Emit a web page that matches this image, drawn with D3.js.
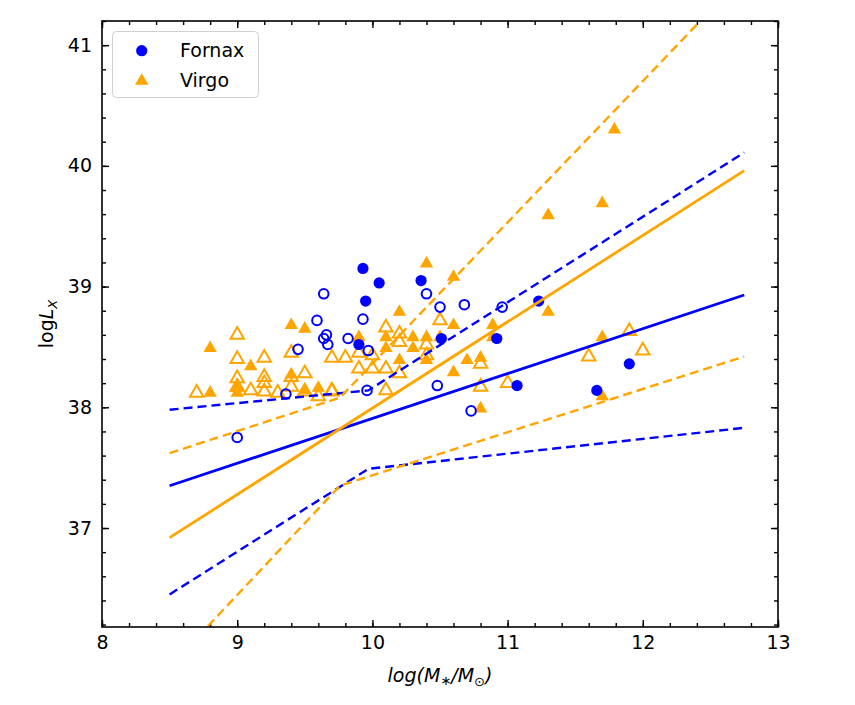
<!DOCTYPE html>
<html>
<head>
<meta charset="utf-8">
<script src="https://cdn.jsdelivr.net/npm/d3@7"></script>
<style>
  body { margin: 0; background: #fff; }
  text { font-family: "DejaVu Sans", sans-serif; }
</style>
</head>
<body>
<script>
// Fornax: [log M*, log Lx]
const fornaxFilled = [
  [9.93, 39.15], [10.05, 39.03], [9.95, 38.88], [10.36, 39.05], [9.90, 38.52],
  [10.51, 38.57], [10.92, 38.57], [11.07, 38.18], [11.23, 38.88], [11.90, 38.36],
  [11.66, 38.14]
];
const fornaxOpen = [
  [9.64, 38.94], [9.59, 38.72], [9.66, 38.60], [9.64, 38.57], [9.67, 38.52],
  [9.82, 38.57], [9.45, 38.48], [9.36, 38.11], [9.93, 38.73], [9.97, 38.47],
  [9.96, 38.14], [10.40, 38.94], [10.50, 38.83], [10.68, 38.85], [10.96, 38.83],
  [10.48, 38.18], [10.73, 37.97], [9.00, 37.75]
];
// Virgo
const virgoFilled = [
  [8.80, 38.49], [9.40, 38.68], [9.50, 38.65], [9.10, 38.34], [9.00, 38.12],
  [9.00, 38.16], [8.80, 38.12], [9.40, 38.27], [9.50, 38.14], [9.60, 38.16],
  [10.40, 39.19], [10.60, 39.08], [10.20, 38.79], [10.60, 38.68], [10.89, 38.68],
  [10.89, 38.58], [9.90, 38.58], [10.10, 38.58], [10.30, 38.58], [10.40, 38.58],
  [10.50, 38.58], [10.30, 38.49], [10.10, 38.49], [10.40, 38.39], [10.20, 38.39],
  [10.70, 38.39], [10.80, 38.41], [10.60, 38.29], [10.80, 37.99], [11.30, 39.59],
  [11.70, 39.69], [11.30, 38.79], [11.70, 38.58], [11.70, 38.09], [11.79, 40.30]
];
const virgoOpen = [
  [9.00, 38.60], [9.00, 38.40], [9.00, 38.24], [9.00, 38.17], [8.70, 38.12],
  [9.10, 38.14], [9.20, 38.41], [9.20, 38.25], [9.20, 38.20], [9.20, 38.13],
  [9.30, 38.12], [9.40, 38.45], [9.40, 38.25], [9.40, 38.17], [9.50, 38.28],
  [9.50, 38.13], [9.60, 38.09], [9.70, 38.41], [9.80, 38.41], [9.70, 38.13],
  [10.10, 38.66], [10.20, 38.61], [10.20, 38.54], [9.90, 38.45], [10.00, 38.43],
  [9.90, 38.32], [10.00, 38.32], [10.10, 38.32], [10.20, 38.28], [10.10, 38.14],
  [9.70, 38.14], [10.40, 38.52], [10.40, 38.43], [10.50, 38.72], [10.80, 38.36],
  [10.80, 38.17], [11.00, 38.20], [11.60, 38.42], [12.00, 38.47], [11.90, 38.63]
];

// fits and their uncertainty envelopes
const fornaxFit = [[8.5, 37.35], [12.75, 38.93]];
const fornaxUpper = [[8.5, 37.98], [9.97, 38.14], [12.75, 40.11]];
const fornaxLower = [[8.5, 36.45], [9.97, 37.49], [12.75, 37.83]];
const virgoFit = [[8.5, 36.92], [12.75, 39.96]];
const virgoUpper = [[8.5, 37.62], [9.76, 38.08], [12.75, 41.58]];
const virgoLower = [[8.5, 35.85], [9.76, 37.35], [12.75, 38.42]];

const xTicks = [8, 9, 10, 11, 12, 13];
const yTicks = [37, 38, 39, 40, 41];

const width = 855, height = 705;
const blue = "#0000ff", orange = "#ffa500";

const x = d3.scaleLinear([8, 13], [102, 778]);
const y = d3.scaleLinear([36.18, 41.2], [627, 21]);

const svg = d3.select("body").append("svg")
  .attr("width", width).attr("height", height);

svg.append("clipPath").attr("id", "plot")
  .append("rect")
  .attr("x", x(8)).attr("y", y(41.2))
  .attr("width", x(13) - x(8)).attr("height", y(36.18) - y(41.2));

const minorX = d3.range(8, 13.001, 0.2);
const minorY = d3.range(36.2, 41.21, 0.2);

function styleAxis(g) {
  g.select(".domain").remove();
  g.selectAll(".tick line").attr("stroke", "#000").attr("stroke-width", 1.4);
  g.selectAll("text").attr("font-size", 19).attr("fill", "#000")
    .attr("font-family", "DejaVu Sans, sans-serif");
}

// bottom
svg.append("g").attr("transform", `translate(0,${y.range()[0]})`)
  .call(d3.axisBottom(x).tickValues(minorX).tickSize(-4).tickFormat(""))
  .call(styleAxis);
svg.append("g").attr("transform", `translate(0,${y.range()[0]})`)
  .call(d3.axisBottom(x).tickValues(xTicks).tickSize(-7).tickPadding(9).tickFormat(d3.format("d")))
  .call(styleAxis);
// top
svg.append("g").attr("transform", `translate(0,${y.range()[1]})`)
  .call(d3.axisTop(x).tickValues(minorX).tickSize(-4).tickFormat(""))
  .call(styleAxis);
svg.append("g").attr("transform", `translate(0,${y.range()[1]})`)
  .call(d3.axisTop(x).tickValues(xTicks).tickSize(-7).tickFormat(""))
  .call(styleAxis);
// left
svg.append("g").attr("transform", `translate(${x.range()[0]},0)`)
  .call(d3.axisLeft(y).tickValues(minorY).tickSize(-4).tickFormat(""))
  .call(styleAxis);
svg.append("g").attr("transform", `translate(${x.range()[0]},0)`)
  .call(d3.axisLeft(y).tickValues(yTicks).tickSize(-7).tickPadding(10).tickFormat(d3.format("d")))
  .call(styleAxis);
// right
svg.append("g").attr("transform", `translate(${x.range()[1]},0)`)
  .call(d3.axisRight(y).tickValues(minorY).tickSize(-4).tickFormat(""))
  .call(styleAxis);
svg.append("g").attr("transform", `translate(${x.range()[1]},0)`)
  .call(d3.axisRight(y).tickValues(yTicks).tickSize(-7).tickFormat(""))
  .call(styleAxis);

const plot = svg.append("g").attr("clip-path", "url(#plot)");

const tri = d3.symbol().type(d3.symbolTriangle).size(78);

// points
plot.selectAll(".vo").data(virgoOpen).join("path")
  .attr("d", tri).attr("transform", d => `translate(${x(d[0])},${y(d[1])})`)
  .attr("fill", "none").attr("stroke", orange).attr("stroke-width", 2);
plot.selectAll(".vf").data(virgoFilled).join("path")
  .attr("d", tri).attr("transform", d => `translate(${x(d[0])},${y(d[1])})`)
  .attr("fill", orange);
plot.selectAll(".fo").data(fornaxOpen).join("circle")
  .attr("cx", d => x(d[0])).attr("cy", d => y(d[1])).attr("r", 4.8)
  .attr("fill", "none").attr("stroke", blue).attr("stroke-width", 2);
plot.selectAll(".ff").data(fornaxFilled).join("circle")
  .attr("cx", d => x(d[0])).attr("cy", d => y(d[1])).attr("r", 5.6)
  .attr("fill", blue);

// lines
const line = d3.line().x(d => x(d[0])).y(d => y(d[1]));
const lines = [
  [fornaxUpper, blue, "9,5"], [fornaxLower, blue, "9,5"],
  [virgoUpper, orange, "9,5"], [virgoLower, orange, "9,5"],
  [fornaxFit, blue, null], [virgoFit, orange, null]
];
lines.forEach(([pts, c, dash]) => {
  plot.append("path").datum(pts).attr("d", line)
    .attr("fill", "none").attr("stroke", c)
    .attr("stroke-width", dash ? 2.4 : 2.8)
    .attr("stroke-dasharray", dash);
});

// frame
svg.append("rect")
  .attr("x", x(8)).attr("y", y(41.2))
  .attr("width", x(13) - x(8)).attr("height", y(36.18) - y(41.2))
  .attr("fill", "none").attr("stroke", "#000").attr("stroke-width", 1.6);

// legend
const lg = svg.append("g");
lg.append("rect").attr("x", 112.5).attr("y", 31.5).attr("width", 146).attr("height", 66)
  .attr("rx", 4).attr("fill", "#fff").attr("fill-opacity", 0.8)
  .attr("stroke", "#d0d0d0").attr("stroke-width", 1);
lg.append("circle").attr("cx", 141.7).attr("cy", 50.7).attr("r", 5.6).attr("fill", blue);
lg.append("path").attr("d", tri).attr("transform", "translate(141.7,81)").attr("fill", orange);
lg.append("text").attr("x", 180).attr("y", 57).attr("font-size", 19).text("Fornax");
lg.append("text").attr("x", 180).attr("y", 87).attr("font-size", 19).text("Virgo");

// axis labels
const yl = svg.append("text")
  .attr("transform", "translate(53,324) rotate(-90)")
  .attr("text-anchor", "middle").attr("font-size", 19);
yl.append("tspan").text("log");
yl.append("tspan").attr("font-style", "italic").text("L");
yl.append("tspan").attr("font-style", "italic").attr("font-size", 13)
  .attr("dy", 4).text("X");

const xl = svg.append("text")
  .attr("x", 440).attr("y", 682)
  .attr("text-anchor", "middle").attr("font-size", 19).attr("font-style", "italic");
xl.append("tspan").text("log(M");
xl.append("tspan").attr("font-size", 13).attr("dy", 3).text("∗");
xl.append("tspan").attr("dy", -3).text("/M");
xl.append("tspan").attr("font-size", 13).attr("font-style", "normal").attr("dy", 4).text("⊙");
xl.append("tspan").attr("dy", -4).text(")");
</script>
</body>
</html>
